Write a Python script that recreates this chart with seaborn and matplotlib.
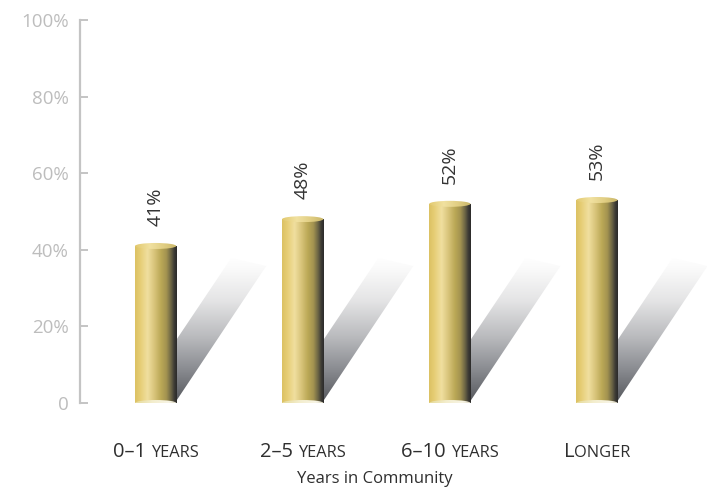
import numpy as np
import pandas as pd
import matplotlib
matplotlib.use("Agg")
import matplotlib.pyplot as plt
import seaborn as sns
from matplotlib.colors import LinearSegmentedColormap
from matplotlib.patches import Ellipse, Polygon
from matplotlib.offsetbox import TextArea, HPacker, AnnotationBbox

# ---- data -------------------------------------------------------------
categories = ["0–1 years", "2–5 years", "6–10 years", "Longer"]
share = [41, 48, 52, 53]
yticks = [0, 20, 40, 60, 80, 100]
ytick_labels = ["0", "20%", "40%", "60%", "80%", "100%"]
axis_title = "Years in Community"
# category labels split into a full-size lead and a small-caps remainder
label_lead = ["0–1 ", "2–5 ", "6–10 ", "L"]
label_rest = ["YEARS", "YEARS", "YEARS", "ONGER"]

# ---- style ------------------------------------------------------------
sns.set_theme(style="white")
plt.rcParams["font.family"] = ["Open Sans", "DejaVu Sans"]

W, H = 707, 494
fig = plt.figure(figsize=(W / 100, H / 100), dpi=100)
ax = fig.add_axes([80 / W, 91 / H, 627 / W, 383 / H])

df = pd.DataFrame({"period": categories, "share": share})
bar_w = 0.28
sns.barplot(data=df, x="period", y="share", width=bar_w, color="#e3ca6c",
            saturation=1, ax=ax, zorder=3)

XLIM = (-0.514, 3.748)
YLIM = (0, 100)


def hcmap(name, stops):
    return LinearSegmentedColormap.from_list(name, stops)


body_cmap = hcmap("body", [(0.0, "#dcc163"), (0.12, "#e6cd74"), (0.30, "#f0df9f"),
                           (0.45, "#dac67d"), (0.62, "#bba856"), (0.75, "#a39350"),
                           (0.86, "#6c6545"), (0.94, "#3c3a35"), (1.0, "#2b2b2b")])
top_cmap = hcmap("top", [(0.0, "#e2c96e"), (0.35, "#f1e1a0"), (0.7, "#e0cd82"),
                         (1.0, "#c9b669")])
base_cmap = hcmap("base", [(0.0, "#e6da98"), (0.4, "#f3edcc"), (0.8, "#f7f4e4"),
                           (1.0, "#d9d5c2")])
shadow_cmap = hcmap("shadow", [(0.0, "#55575c"), (0.25, "#8e9095"), (0.45, "#b9babd"),
                               (0.7, "#e4e4e5"), (0.9, "#f8f8f8"), (1.0, "#ffffff")])

hgrad = np.linspace(0, 1, 256).reshape(1, -1)
vgrad = np.linspace(0, 1, 256).reshape(-1, 1)

# scale factors: data units per pixel
px_x = (XLIM[1] - XLIM[0]) / 627
px_y = (YLIM[1] - YLIM[0]) / 383
cap_h = 6 * px_y

for patch, val in zip(ax.patches, share):
    x0 = patch.get_x()
    w = patch.get_width()
    x1 = x0 + w
    h = patch.get_height()
    cx = x0 + w / 2
    patch.set_facecolor("none")
    patch.set_edgecolor("none")

    # cast shadow falling back and to the right of the cylinder
    verts = [(x1, 2 * px_y), (x1 + 90 * px_x, 137 * px_y),
             (x1 + 55 * px_x, 145 * px_y), (x1, 63 * px_y)]
    shadow = Polygon(verts, closed=True, facecolor="none", edgecolor="none")
    ax.add_patch(shadow)
    im = ax.imshow(vgrad, cmap=shadow_cmap, origin="lower", aspect="auto",
                   extent=(x1, x1 + 92 * px_x, 0, 145 * px_y), zorder=1,
                   interpolation="bilinear")
    im.set_clip_path(shadow)

    # cylinder body
    im = ax.imshow(hgrad, cmap=body_cmap, aspect="auto", extent=(x0, x1, 0, h),
                   zorder=3, interpolation="bilinear")
    im.set_clip_path(patch)

    # base ellipse
    base = Ellipse((cx, 0), w, cap_h, facecolor="none", edgecolor="none",
                   clip_on=False)
    ax.add_patch(base)
    im = ax.imshow(hgrad, cmap=base_cmap, aspect="auto",
                   extent=(x0, x1, -cap_h / 2, cap_h / 2), zorder=4,
                   interpolation="bilinear")
    im.set_clip_path(base)
    im.set_clip_box(None)

    # top cap
    top = Ellipse((cx, h), w, cap_h, facecolor="none", edgecolor="none")
    ax.add_patch(top)
    im = ax.imshow(hgrad, cmap=top_cmap, aspect="auto",
                   extent=(x0, x1, h - cap_h / 2, h + cap_h / 2), zorder=4,
                   interpolation="bilinear")
    im.set_clip_path(top)

    # value label
    ax.text(cx, h + 5.2, f"{val}%", rotation=90, ha="center", va="bottom",
            fontsize=14, color="#333333", zorder=5)

ax.set_xlim(*XLIM)
ax.set_ylim(*YLIM)

# y axis
for side in ("top", "right", "bottom"):
    ax.spines[side].set_visible(False)
ax.spines["left"].set_color("#c4c4c4")
ax.spines["left"].set_linewidth(1.6)
ax.set_yticks(yticks, ytick_labels)
ax.tick_params(axis="y", direction="in", length=6, width=1.4, color="#c4c4c4",
               labelcolor="#bdbdbd", labelsize=13.5, pad=8, left=True)
ax.set_xticks([])
ax.set_xlabel("")
ax.set_ylabel("")

# category labels with small-caps rendering
for i, (lead, rest) in enumerate(zip(label_lead, label_rest)):
    box = HPacker(children=[TextArea(lead, textprops=dict(fontsize=14.5, color="#2f2f2f")),
                            TextArea(rest, textprops=dict(fontsize=11.8, color="#2f2f2f"))],
                  align="baseline", pad=0, sep=0)
    ab = AnnotationBbox(box, (i, 0), xycoords="data",
                        xybox=(0, -35), boxcoords="offset points",
                        frameon=False, box_alignment=(0.5, 0.5),
                        annotation_clip=False)
    ax.add_artist(ab)

fig.text(375 / W, 1 - 479 / H, axis_title, ha="center", va="center",
         fontsize=12, color="#2f2f2f")

fig.savefig("out.png", dpi=100)
